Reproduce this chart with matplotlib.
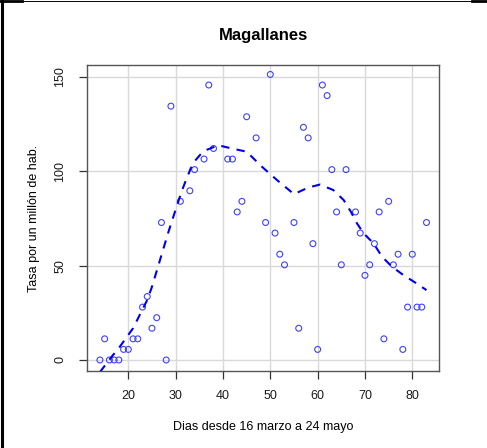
import matplotlib
matplotlib.use('Agg')
import matplotlib.pyplot as plt
from matplotlib.lines import Line2D

plt.rcParams['font.family'] = ['Liberation Sans', 'DejaVu Sans']

# daily rate per million inhabitants (open circles)
dias = [14, 15, 16, 17, 18, 19, 20, 21, 22, 23, 24, 25, 26, 27, 28, 29, 31, 33, 34, 36,
        37, 38, 41, 42, 43, 44, 45, 47, 49, 50, 51, 52, 53, 55, 56, 57, 58, 59, 60, 61,
        62, 63, 64, 65, 66, 68, 69, 70, 71, 72, 73, 74, 75, 76, 77, 78, 79, 80, 81, 82, 83]
tasa = [0, 11.2, 0, 0, 0, 5.6, 5.6, 11.2, 11.2, 28.0, 33.6, 16.8, 22.4, 72.8, 0, 134.4, 84.0, 89.6, 100.8, 106.4,
        145.6, 112.0, 106.4, 106.4, 78.4, 84.0, 128.8, 117.6, 72.8, 151.2, 67.2, 56.0, 50.4, 72.8, 16.8, 123.2, 117.6, 61.6, 5.6, 145.6,
        140.0, 100.8, 78.4, 50.4, 100.8, 78.4, 67.2, 44.8, 50.4, 61.6, 78.4, 11.2, 84.0, 50.4, 56.0, 5.6, 28.0, 56.0, 28.0, 28.0, 72.8]

# smoothed trend (dashed line)
suave_x = [14, 16.5, 18.2, 21, 24, 25, 26.7, 28.5, 30.2, 31.3, 32.3, 33.2, 34.1, 35.3, 36.6, 39, 42.2, 45, 48.2,
           51.4, 55, 58, 60.5, 63.3, 65.5, 67, 68.3, 69.7, 71.8, 73.6, 75.7, 78.1, 80.3, 83]
suave_y = [-6.4, 1.8, 7.0, 16.8, 31.8, 38.8, 53.0, 68.0, 81.2, 89.5, 96.0, 101.5, 105.5, 109.0, 111.3, 113.7, 111.8, 110.3, 102.4,
           95.3, 87.8, 91.3, 92.9, 90.0, 84.7, 78.6, 72.4, 67.1, 61.8, 54.7, 49.4, 45.0, 41.5, 37.0]

fig = plt.figure(figsize=(4.87, 4.48), dpi=100)
fig.patch.set_facecolor('white')
ax = fig.add_axes([87 / 487, (448 - 371) / 448, (439 - 87) / 487, (371 - 65) / 448])

ax.grid(True, color='#d9d9d9', linewidth=1)
ax.set_axisbelow(True)

ax.scatter(dias, tasa, s=18, facecolors='none', edgecolors='#4040ff', linewidths=0.8, zorder=3)
ax.plot(suave_x, suave_y, color='#0000ee', linewidth=1.5, dashes=(4, 3.5), zorder=4)

ax.set_xlim(11.27, 85.64)
ax.set_ylim(-5.83, 156.2)
ax.set_xticks([20, 30, 40, 50, 60, 70, 80])
ax.set_yticks([0, 50, 100, 150])
ax.set_yticklabels(['0', '50', '100', '150'], rotation=90, va='center')

for s in ax.spines.values():
    s.set_color('#555555')
    s.set_linewidth(1)
ax.tick_params(axis='both', direction='out', length=6, width=0.9, color='#333333',
               labelsize=9, labelcolor='#1a1a1a', pad=7.5)
ax.tick_params(axis='y', pad=9)

ax.set_title('Magallanes', fontsize=12, fontweight='bold', pad=18)
ax.set_xlabel('Dias desde 16 marzo a 24 mayo', fontsize=9, labelpad=14)
ax.set_ylabel('Tasa por un millón de hab.', fontsize=9, labelpad=10)

# screenshot frame
fig.add_artist(Line2D([1.5 / 487, 1.5 / 487], [0, 1], color='black', linewidth=2.2, transform=fig.transFigure))
fig.add_artist(Line2D([0, 1], [1 - 1.5 / 448, 1 - 1.5 / 448], color='black', linewidth=0.7, transform=fig.transFigure))
fig.add_artist(Line2D([0, 22 / 487], [1 - 1.5 / 448, 1 - 1.5 / 448], color='black', linewidth=2, transform=fig.transFigure))
fig.add_artist(Line2D([472 / 487, 1], [1 - 1.5 / 448, 1 - 1.5 / 448], color='black', linewidth=2, transform=fig.transFigure))

fig.savefig('out.png', dpi=100, facecolor=fig.get_facecolor())
plt.close(fig)
